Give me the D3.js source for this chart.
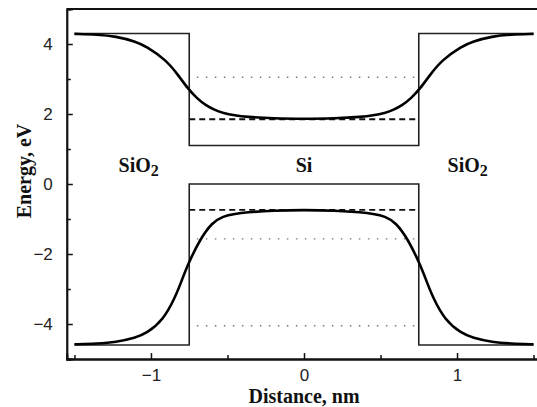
<!DOCTYPE html>
<html>
<head>
<meta charset="utf-8">
<script src="https://cdn.jsdelivr.net/npm/d3@7"></script>
<style>
  body{margin:0;background:#fff;}
  svg{display:block;}
  .tick text{font-family:"Liberation Sans",Arial,sans-serif;font-size:17px;fill:#222;}
  .lbl{font-family:"Liberation Serif","Times New Roman",serif;font-weight:bold;font-size:20px;fill:#111;}
</style>
</head>
<body>
<svg id="chart" width="537" height="407"></svg>
<script>
// band edge profiles (x in nm, energy in eV)
var cbX=[-1.50,-1.35,-1.23,-1.10,-1.03,-0.90,-0.82,-0.76,-0.70,-0.64,-0.58,-0.53,-0.45,-0.38,-0.20,0,0.20,0.38,0.45,0.53,0.58,0.64,0.70,0.76,0.82,0.90,1.03,1.10,1.23,1.35,1.50];
var cbE=[4.29,4.27,4.22,4.07,3.93,3.54,3.10,2.73,2.45,2.24,2.11,2.03,1.96,1.92,1.87,1.86,1.87,1.92,1.96,2.03,2.11,2.24,2.45,2.73,3.10,3.54,3.93,4.07,4.22,4.27,4.29];
var vbX=[-1.50,-1.35,-1.23,-1.10,-1.03,-0.92,-0.84,-0.80,-0.76,-0.68,-0.60,-0.53,-0.45,-0.38,-0.20,0,0.20,0.38,0.45,0.53,0.60,0.68,0.76,0.80,0.84,0.92,1.03,1.10,1.23,1.35,1.50];
var vbE=[-4.58,-4.56,-4.52,-4.39,-4.27,-3.89,-3.22,-2.77,-2.31,-1.58,-1.10,-0.92,-0.85,-0.81,-0.76,-0.74,-0.76,-0.81,-0.85,-0.92,-1.10,-1.58,-2.31,-2.77,-3.22,-3.89,-4.27,-4.39,-4.52,-4.56,-4.58];
// abrupt (step) band edges
var stepX=[-1.5,-0.75,-0.75,0.75,0.75,1.5];
var stepCB=[4.3,4.3,1.1,1.1,4.3,4.3];
var stepVB=[-4.6,-4.6,0,0,-4.6,-4.6];
// horizontal levels inside Si
var dashedLevels=[1.85,-0.74];
var dottedLevels=[3.05,-1.57,-4.05];
var regions=[{name:"SiO",sub:"2",x:-1.08},{name:"Si",sub:"",x:0},{name:"SiO",sub:"2",x:1.07}];
var xTicks=[-1,0,1], xMinor=[-1.5,-0.5,0.5,1.5];
var yTicks=[-4,-2,0,2,4], yMinor=[-5,-3,-1,1,3];

var svg=d3.select("#chart"),
    W=+svg.attr("width");
var x=d3.scaleLinear().domain([-1.55,1.55]).range([66.8,541.2]);
var y=d3.scaleLinear().domain([-5,5]).range([359,9]);
var g=svg.append("g");

// top frame line
g.append("line").attr("x1",x(-1.55)).attr("x2",W).attr("y1",y(5)).attr("y2",y(5))
  .attr("stroke","#111").attr("stroke-width",1.8);

// axes with inward ticks
g.append("g").attr("transform","translate(0,"+y(-5)+")")
  .call(d3.axisBottom(x).tickValues(xTicks).tickSize(-6).tickPadding(10).tickFormat(d3.format("d")));
g.append("g").attr("transform","translate(0,"+y(-5)+")")
  .call(d3.axisBottom(x).tickValues(xMinor).tickSize(-4).tickFormat(""));
g.append("g").attr("transform","translate("+x(-1.55)+",0)")
  .call(d3.axisLeft(y).tickValues(yTicks).tickSize(-6).tickPadding(14).tickFormat(d3.format("d")));
g.append("g").attr("transform","translate("+x(-1.55)+",0)")
  .call(d3.axisLeft(y).tickValues(yMinor).tickSize(-4).tickFormat(""));
g.selectAll(".domain").attr("stroke","#111").attr("stroke-width",1.8);
g.selectAll(".tick line").attr("stroke","#111").attr("stroke-width",1.5);

// step lines
var stepLine=d3.line().x(function(d){return x(d[0]);}).y(function(d){return y(d[1]);});
[stepCB,stepVB].forEach(function(s){
  g.append("path").datum(d3.zip(stepX,s)).attr("d",stepLine)
    .attr("fill","none").attr("stroke","#222").attr("stroke-width",1.6);
});

// dashed and dotted levels
dashedLevels.forEach(function(v){
  g.append("line").attr("x1",x(-0.75)).attr("x2",x(0.75)).attr("y1",y(v)).attr("y2",y(v))
    .attr("stroke","#111").attr("stroke-width",1.8).attr("stroke-dasharray","6,4");
});
dottedLevels.forEach(function(v){
  g.append("line").attr("x1",x(-0.70)).attr("x2",x(0.75)).attr("y1",y(v)).attr("y2",y(v))
    .attr("stroke","#777").attr("stroke-width",1.3).attr("stroke-dasharray","1.5,7.5");
});

// smooth profiles
var curve=d3.line().curve(d3.curveBasis).x(function(d){return x(d[0]);}).y(function(d){return y(d[1]);});
[[cbX,cbE],[vbX,vbE]].forEach(function(p){
  g.append("path").datum(d3.zip(p[0],p[1])).attr("d",curve)
    .attr("fill","none").attr("stroke","#000").attr("stroke-width",2.6);
});

// region labels
regions.forEach(function(r){
  var t=g.append("text").attr("class","lbl").attr("x",x(r.x)).attr("y",y(0.34)).attr("text-anchor","middle");
  t.append("tspan").text(r.name);
  if(r.sub) t.append("tspan").attr("dy",4).attr("font-size","16px").text(r.sub);
});

// axis titles
svg.append("text").attr("class","lbl").attr("x",304).attr("y",403).attr("font-size","19px").attr("text-anchor","middle").text("Distance, nm");
svg.append("text").attr("class","lbl").attr("transform","translate(31,171) rotate(-90)").attr("text-anchor","middle").text("Energy, eV");
</script>
</body>
</html>
